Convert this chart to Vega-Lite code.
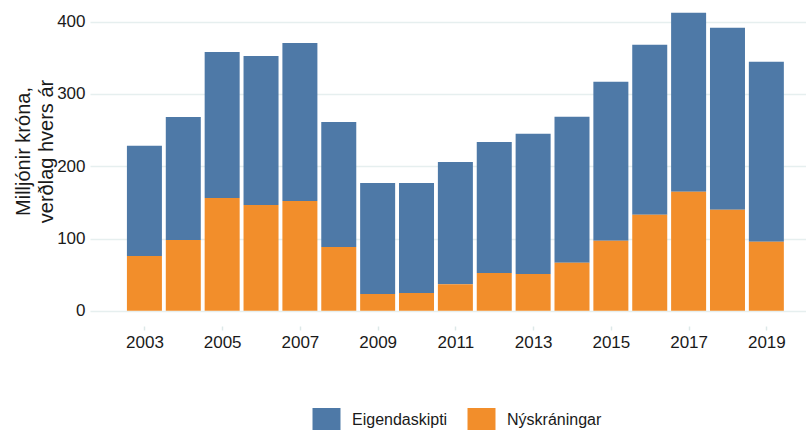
{
  "$schema": "https://vega.github.io/schema/vega-lite/v6.json",
  "width": 716,
  "height": 326,
  "autosize": {"type": "none"},
  "padding": {"left": 90, "top": 0, "right": 0, "bottom": 104},
  "background": "white",
  "config": {
    "view": {"stroke": null},
    "font": "Liberation Sans"
  },
  "data": {
    "values": [
      {"year": 2003, "series": "Eigendaskipti", "value": 152.7},
      {"year": 2004, "series": "Eigendaskipti", "value": 170.1},
      {"year": 2005, "series": "Eigendaskipti", "value": 202},
      {"year": 2006, "series": "Eigendaskipti", "value": 206.2},
      {"year": 2007, "series": "Eigendaskipti", "value": 218.7},
      {"year": 2008, "series": "Eigendaskipti", "value": 173},
      {"year": 2009, "series": "Eigendaskipti", "value": 153.6},
      {"year": 2010, "series": "Eigendaskipti", "value": 152.2},
      {"year": 2011, "series": "Eigendaskipti", "value": 168.9},
      {"year": 2012, "series": "Eigendaskipti", "value": 181.3},
      {"year": 2013, "series": "Eigendaskipti", "value": 194},
      {"year": 2014, "series": "Eigendaskipti", "value": 202.1},
      {"year": 2015, "series": "Eigendaskipti", "value": 220.1},
      {"year": 2016, "series": "Eigendaskipti", "value": 235.1},
      {"year": 2017, "series": "Eigendaskipti", "value": 247.8},
      {"year": 2018, "series": "Eigendaskipti", "value": 251.9},
      {"year": 2019, "series": "Eigendaskipti", "value": 249.1},
      {"year": 2003, "series": "Nýskráningar", "value": 75.7},
      {"year": 2004, "series": "Nýskráningar", "value": 97.9},
      {"year": 2005, "series": "Nýskráningar", "value": 156},
      {"year": 2006, "series": "Nýskráningar", "value": 146.3},
      {"year": 2007, "series": "Nýskráningar", "value": 151.8},
      {"year": 2008, "series": "Nýskráningar", "value": 88.2},
      {"year": 2009, "series": "Nýskráningar", "value": 23.1},
      {"year": 2010, "series": "Nýskráningar", "value": 24.5},
      {"year": 2011, "series": "Nýskráningar", "value": 36.9},
      {"year": 2012, "series": "Nýskráningar", "value": 52.2},
      {"year": 2013, "series": "Nýskráningar", "value": 51},
      {"year": 2014, "series": "Nýskráningar", "value": 66.4},
      {"year": 2015, "series": "Nýskráningar", "value": 96.9},
      {"year": 2016, "series": "Nýskráningar", "value": 132.9},
      {"year": 2017, "series": "Nýskráningar", "value": 164.7},
      {"year": 2018, "series": "Nýskráningar", "value": 139.8},
      {"year": 2019, "series": "Nýskráningar", "value": 95.5}
    ]
  },
  "mark": {"type": "bar", "size": 35},
  "encoding": {
    "x": {
      "field": "year",
      "type": "quantitative",
      "scale": {"domain": [2001.6, 2020.02], "nice": false, "zero": false, "padding": 0},
      "axis": {
        "values": [2003, 2005, 2007, 2009, 2011, 2013, 2015, 2017, 2019],
        "format": "d",
        "title": null,
        "domain": false,
        "grid": true,
        "gridColor": "white",
        "gridWidth": 2,
        "ticks": true,
        "tickColor": "#dde8e8",
        "tickSize": 4,
        "tickWidth": 1.5,
        "labelFontSize": 17,
        "labelColor": "#1a1a1a",
        "labelPadding": 4,
        "labelFlush": false
      }
    },
    "y": {
      "field": "value",
      "type": "quantitative",
      "aggregate": "sum",
      "stack": "zero",
      "scale": {"domain": [-21, 430], "nice": false, "zero": false},
      "axis": {
        "values": [0, 100, 200, 300, 400],
        "title": ["Milljónir króna,", "verðlag hvers ár"],
        "titleFontSize": 20,
        "titleFontWeight": "normal",
        "titleColor": "#1a1a1a",
        "titleLineHeight": 23,
        "titleX": -57,
        "titleY": 151,
        "titleAnchor": null,
        "titleAlign": "center",
        "titleBaseline": "bottom",
        "domain": false,
        "ticks": false,
        "grid": true,
        "gridColor": "#e6efef",
        "gridWidth": 1.5,
        "labelFontSize": 17,
        "labelColor": "#1a1a1a",
        "labelPadding": 5
      }
    },
    "color": {
      "field": "series",
      "type": "nominal",
      "scale": {"domain": ["Eigendaskipti", "Nýskráningar"], "range": ["#4e79a7", "#f28e2b"]},
      "legend": {
        "title": null,
        "orient": "none",
        "direction": "horizontal",
        "legendX": 225,
        "legendY": 408,
        "symbolType": "M-1.217,-1H1.217V1H-1.217Z",
        "symbolSize": 529,
        "symbolStrokeWidth": 0,
        "symbolOpacity": 1,
        "labelFontSize": 16,
        "labelColor": "#1a1a1a",
        "labelOffset": 14,
        "columnPadding": 19
      }
    },
    "order": {"field": "series", "sort": "descending"}
  }
}
